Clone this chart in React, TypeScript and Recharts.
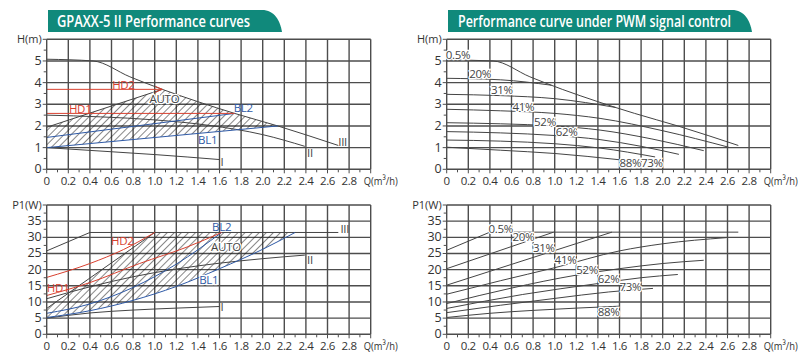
import { Area, CartesianGrid, ComposedChart, Line, ReferenceDot, XAxis, YAxis } from 'recharts';

type Pt = { x: number; y: number };

const TEAL = '#10897b';
const GRID = '#4d4d4d';
const INK = '#444';
const RED = '#d8402f';
const BLUE = '#2f5aa6';
const FONT = '"Open Sans", "Noto Sans", sans-serif';

// axis ticks
const qTicks = [0, 0.1, 0.2, 0.3, 0.4, 0.5, 0.6, 0.7, 0.8, 0.9, 1.0, 1.1, 1.2, 1.3, 1.4, 1.5, 1.6, 1.7, 1.8, 1.9, 2.0, 2.1, 2.2, 2.3, 2.4, 2.5, 2.6, 2.7, 2.8, 2.9, 3.0];
const qGrid = [0.2, 0.4, 0.6, 0.8, 1.0, 1.2, 1.4, 1.6, 1.8, 2.0, 2.2, 2.4, 2.6, 2.8, 3.0];
const hTicks = [0, 0.5, 1, 1.5, 2, 2.5, 3, 3.5, 4, 4.5, 5, 5.5, 6];
const hGrid = [1, 2, 3, 4, 5, 6];
const pTicks = [0, 2.5, 5, 7.5, 10, 12.5, 15, 17.5, 20, 22.5, 25, 27.5, 30, 32.5, 35, 37.5, 40];
const pGrid = [5, 10, 15, 20, 25, 30, 35, 40];

// GPAXX-5 II : head
const speedIII_H: Pt[] = [{ x: 0, y: 5.08 }, { x: 0.43, y: 5.0 }, { x: 0.77, y: 4.27 }, { x: 1.07, y: 3.69 }, { x: 1.4, y: 3.12 }, { x: 1.74, y: 2.58 }, { x: 2.14, y: 2.0 }, { x: 2.7, y: 1.1 }];
const speedII_H: Pt[] = [{ x: 0, y: 2.5 }, { x: 0.5, y: 2.42 }, { x: 1.0, y: 2.28 }, { x: 1.5, y: 2.03 }, { x: 2.0, y: 1.6 }, { x: 2.39, y: 1.06 }];
const speedI_H: Pt[] = [{ x: 0, y: 1.0 }, { x: 0.6, y: 0.81 }, { x: 1.0, y: 0.68 }, { x: 1.6, y: 0.45 }];
const auto_H: Pt[] = [{ x: 0, y: 1.94 }, { x: 1.07, y: 3.69 }];
const bl1_H: Pt[] = [{ x: 0, y: 1.0 }, { x: 2.14, y: 2.0 }];
const bl2_H: Pt[] = [{ x: 0, y: 1.47 }, { x: 1.74, y: 2.58 }];
const hd1_H: Pt[] = [{ x: 0, y: 2.58 }, { x: 1.74, y: 2.58 }];
const hd2_H: Pt[] = [{ x: 0, y: 3.69 }, { x: 1.07, y: 3.69 }];
const autoBand_H = [
  { x: 0, r: [1.0, 1.94] },
  { x: 0.5, r: [1.23, 2.76] },
  { x: 1.07, r: [1.5, 3.69] },
  { x: 1.4, r: [1.65, 3.12] },
  { x: 1.74, r: [1.81, 2.58] },
  { x: 2.14, r: [2.0, 2.0] },
];

// GPAXX-5 II : power
const speedIII_P: Pt[] = [{ x: 0, y: 25.8 }, { x: 0.4, y: 31.5 }, { x: 2.7, y: 31.5 }];
const speedII_P: Pt[] = [{ x: 0, y: 11 }, { x: 0.4, y: 14.7 }, { x: 0.8, y: 17.8 }, { x: 1.2, y: 20.2 }, { x: 1.6, y: 22.0 }, { x: 2.0, y: 23.4 }, { x: 2.39, y: 24.5 }];
const speedI_P: Pt[] = [{ x: 0, y: 5 }, { x: 0.4, y: 6.6 }, { x: 0.8, y: 7.5 }, { x: 1.2, y: 8.1 }, { x: 1.6, y: 8.6 }];
const hd2_P: Pt[] = [{ x: 0, y: 17.6 }, { x: 0.4, y: 21.9 }, { x: 0.71, y: 26.2 }, { x: 1.0, y: 31.5 }];
const hd1_P: Pt[] = [{ x: 0, y: 12 }, { x: 0.4, y: 16.0 }, { x: 0.86, y: 21.9 }, { x: 1.3, y: 27 }, { x: 1.62, y: 31.5 }];
const bl2_P: Pt[] = [{ x: 0, y: 6.5 }, { x: 0.4, y: 9.4 }, { x: 0.8, y: 14.5 }, { x: 1.2, y: 21.7 }, { x: 1.62, y: 31.5 }];
const bl1_P: Pt[] = [{ x: 0, y: 5.2 }, { x: 0.4, y: 7.3 }, { x: 0.8, y: 10.5 }, { x: 1.2, y: 14.8 }, { x: 1.6, y: 20.3 }, { x: 2.0, y: 26.3 }, { x: 2.3, y: 31.5 }];
const auto_P: Pt[] = [{ x: 0, y: 8 }, { x: 1.0, y: 31.5 }];
const autoBand_P = [
  { x: 0, r: [5.2, 8] },
  { x: 0.4, r: [7.3, 17.4] },
  { x: 0.8, r: [10.5, 26.8] },
  { x: 1.0, r: [12.6, 31.5] },
  { x: 1.2, r: [14.8, 31.5] },
  { x: 1.6, r: [20.3, 31.5] },
  { x: 2.0, r: [26.3, 31.5] },
  { x: 2.3, r: [31.5, 31.5] },
];

// PWM : head
const pwm05_H: Pt[] = [{ x: 0, y: 5.05 }, { x: 0.43, y: 5.0 }, { x: 0.77, y: 4.27 }, { x: 1.07, y: 3.69 }, { x: 1.4, y: 3.12 }, { x: 1.74, y: 2.58 }, { x: 2.14, y: 2.0 }, { x: 2.7, y: 1.1 }];
const pwm20_H: Pt[] = [{ x: 0, y: 4.2 }, { x: 0.5, y: 4.13 }, { x: 0.97, y: 3.88 }];
const pwm31_H: Pt[] = [{ x: 0, y: 3.46 }, { x: 0.5, y: 3.4 }, { x: 1.0, y: 3.26 }, { x: 1.57, y: 2.85 }];
const pwm41_H: Pt[] = [{ x: 0, y: 2.77 }, { x: 0.5, y: 2.7 }, { x: 1.0, y: 2.58 }, { x: 1.42, y: 2.35 }, { x: 2.0, y: 1.78 }, { x: 2.61, y: 1.02 }];
const pwm52_H: Pt[] = [{ x: 0, y: 2.15 }, { x: 0.5, y: 2.1 }, { x: 1.0, y: 2.0 }, { x: 1.42, y: 1.81 }, { x: 1.9, y: 1.4 }, { x: 2.38, y: 0.86 }];
const pwm62_H: Pt[] = [{ x: 0, y: 1.74 }, { x: 0.5, y: 1.68 }, { x: 1.0, y: 1.56 }, { x: 1.42, y: 1.37 }, { x: 1.8, y: 1.06 }, { x: 2.15, y: 0.69 }];
const pwm73_H: Pt[] = [{ x: 0, y: 1.35 }, { x: 0.5, y: 1.3 }, { x: 1.0, y: 1.18 }, { x: 1.42, y: 0.98 }, { x: 1.93, y: 0.57 }];
const pwm88_H: Pt[] = [{ x: 0, y: 1.02 }, { x: 0.5, y: 0.88 }, { x: 1.0, y: 0.73 }, { x: 1.6, y: 0.44 }];

// PWM : power
const pwm05_P: Pt[] = [{ x: 0, y: 26 }, { x: 0.4, y: 31.6 }, { x: 2.7, y: 31.6 }];
const pwm20_P: Pt[] = [{ x: 0, y: 20.3 }, { x: 0.99, y: 31.6 }];
const pwm31_P: Pt[] = [{ x: 0, y: 15.2 }, { x: 1.53, y: 31.6 }];
const pwm41_P: Pt[] = [{ x: 0, y: 12.4 }, { x: 0.5, y: 16.6 }, { x: 1.0, y: 20.6 }, { x: 1.6, y: 25.8 }, { x: 2.0, y: 28.0 }, { x: 2.59, y: 29.9 }];
const pwm52_P: Pt[] = [{ x: 0, y: 9.5 }, { x: 0.6, y: 14.3 }, { x: 1.2, y: 18.3 }, { x: 1.6, y: 20.3 }, { x: 2.0, y: 21.9 }, { x: 2.38, y: 22.9 }];
const pwm62_P: Pt[] = [{ x: 0, y: 8.0 }, { x: 0.7, y: 12.3 }, { x: 1.4, y: 15.7 }, { x: 1.8, y: 17.5 }, { x: 2.14, y: 18.5 }];
const pwm73_P: Pt[] = [{ x: 0, y: 6.7 }, { x: 0.5, y: 9.0 }, { x: 1.0, y: 11.1 }, { x: 1.5, y: 13.1 }, { x: 1.91, y: 14.2 }];
const pwm88_P: Pt[] = [{ x: 0, y: 5.2 }, { x: 0.4, y: 6.5 }, { x: 0.8, y: 7.4 }, { x: 1.2, y: 8.1 }, { x: 1.6, y: 8.7 }];

const QTick = (props: any) => {
  const { x, y, payload } = props;
  const v = Math.round(payload.value * 10);
  if (v % 2) return <line x1={x} x2={x} y1={y} y2={y + 3} stroke={GRID} />;
  const last = v === 30;
  const label = last ? 'Q(m³/h)' : v === 0 ? '0' : (v / 10).toFixed(1);
  return (
    <g>
      <line x1={x} x2={x} y1={y} y2={y + 4} stroke={GRID} />
      {last ? (
        <text x={x - 7} y={y + 16} textAnchor="start" fontSize={11.5} fontFamily={FONT} fill="#333" textLength={34} lengthAdjust="spacingAndGlyphs">
          {label}
        </text>
      ) : (
        <text x={x} y={y + 16} textAnchor="middle" fontSize={11.5} letterSpacing={-0.4} fontFamily={FONT} fill="#333">
          {label}
        </text>
      )}
    </g>
  );
};

const makeYTick = (step: number, top: number, title: string) => (props: any) => {
  const { x, y, payload } = props;
  const v = payload.value;
  if (Math.abs(v / step - Math.round(v / step)) > 0.01) return <line x1={x} x2={x - 3} y1={y} y2={y} stroke={GRID} />;
  return (
    <g>
      <line x1={x} x2={x - 4} y1={y} y2={y} stroke={GRID} />
      <text x={x - 5} y={y + 4} textAnchor="end" fontSize={v === top ? 11 : 12.5} fontFamily={FONT} fill="#333">
        {v === top ? title : v}
      </text>
    </g>
  );
};

const hTick = makeYTick(1, 6, 'H(m)');
const pTick = makeYTick(5, 40, 'P1(W)');

const curve = (key: string, data: Pt[], color = INK, type: 'monotone' | 'linear' = 'monotone', dot: any = false) => (
  <Line key={key} data={data} dataKey="y" type={type} stroke={color} strokeWidth={1} dot={dot} activeDot={false} isAnimationActive={false} />
);

const tag = (key: string, x: number, y: number, text: string, color = INK, anchor: 'middle' | 'start' = 'middle', halo = false) => (
  <ReferenceDot
    key={key}
    x={x}
    y={y}
    r={0}
    ifOverflow="visible"
    shape={(p: any) => (
      <text x={p.cx} y={p.cy} dy={4} textAnchor={anchor} fill={color} fontSize={11.5} letterSpacing={-0.3} fontFamily={FONT} stroke={halo ? '#fff' : 'none'} strokeWidth={2.5} paintOrder="stroke">
        {text}
      </text>
    )}
  />
);

const band = (key: string, data: any[], fill: string) => (
  <Area key={key} data={data} dataKey="r" type="linear" stroke="none" fill={fill} fillOpacity={1} dot={false} activeDot={false} isAnimationActive={false} />
);

const arrowDot = (p: any) =>
  p.index === 1 ? (
    <path key="arrow" d={`M${p.cx - 7},${p.cy - 3} L${p.cx},${p.cy} L${p.cx - 7},${p.cy + 3}`} stroke={RED} fill="none" />
  ) : (
    <g key={p.index} />
  );

function Panel({ left, top, upper, pattern, children }: { left: number; top: number; upper: boolean; pattern: string; children: any }) {
  const height = upper ? 190 : 181;
  return (
    <div style={{ position: 'absolute', left, top }}>
      <ComposedChart width={430} height={height} margin={{ top: upper ? 39.3 : 25, right: 59.3, bottom: upper ? 0.7 : 6.7, left: 6.7 }}>
        <defs>
          <pattern id={pattern} patternUnits="userSpaceOnUse" width={5} height={5} patternTransform="rotate(45)">
            <line x1={0} y1={0} x2={0} y2={5} stroke="#111" strokeWidth={1} />
          </pattern>
        </defs>
        <CartesianGrid stroke={GRID} strokeWidth={1.4} verticalValues={qGrid} horizontalValues={upper ? hGrid : pGrid} />
        <XAxis type="number" dataKey="x" domain={[0, 3]} ticks={qTicks} interval={0} tick={<QTick />} tickLine={false} tickSize={0} tickMargin={0} height={20} axisLine={{ stroke: GRID, strokeWidth: 1.4 }} allowDataOverflow />
        <YAxis
          type="number"
          domain={upper ? [0, 6] : [0, 40]}
          ticks={upper ? hTicks : pTicks}
          interval={0}
          tick={upper ? hTick : pTick}
          tickLine={false}
          tickSize={0}
          tickMargin={0}
          width={40}
          axisLine={{ stroke: GRID, strokeWidth: 1.4 }}
          allowDataOverflow
        />
        {children}
      </ComposedChart>
    </div>
  );
}

export default function App() {
  return (
    <div style={{ position: 'absolute', left: 0, top: 0, width: 800, height: 361, background: '#fff', overflow: 'hidden', fontFamily: FONT }}>
      <Panel left={0} top={0} upper pattern="hatchH">
        {[
          band('band', autoBand_H, 'url(#hatchH)'),
          curve('III', speedIII_H),
          curve('II', speedII_H),
          curve('I', speedI_H),
          curve('auto', auto_H, INK, 'linear'),
          curve('bl1', bl1_H, BLUE, 'linear'),
          curve('bl2', bl2_H, BLUE, 'linear'),
          curve('hd1', hd1_H, RED, 'linear'),
          curve('hd2', hd2_H, RED, 'linear', arrowDot),
          tag('tHD2', 0.71, 3.89, 'HD2', RED),
          tag('tHD1', 0.31, 2.78, 'HD1', RED),
          tag('tAUTO', 1.09, 3.24, 'AUTO', INK, 'middle', true),
          tag('tBL2', 1.82, 2.83, 'BL2', BLUE),
          tag('tBL1', 1.49, 1.35, 'BL1', BLUE),
          tag('tIII', 2.7, 1.27, 'III', INK, 'start'),
          tag('tII', 2.41, 0.75, 'II', INK, 'start'),
          tag('tI', 1.61, 0.33, 'I', INK, 'start'),
        ]}
      </Panel>
      <Panel left={0} top={180} upper={false} pattern="hatchP">
        {[
          band('band', autoBand_P, 'url(#hatchP)'),
          curve('III', speedIII_P, INK, 'linear'),
          curve('II', speedII_P),
          curve('I', speedI_P),
          curve('auto', auto_P, INK, 'linear'),
          curve('bl1', bl1_P, BLUE),
          curve('bl2', bl2_P, BLUE),
          curve('hd1', hd1_P, RED),
          curve('hd2', hd2_P, RED),
          tag('tHD2', 0.7, 29.0, 'HD2', RED),
          tag('tHD1', 0.105, 14.4, 'HD1', RED),
          tag('tBL2', 1.62, 33.2, 'BL2', BLUE),
          tag('tAUTO', 1.66, 27.0, 'AUTO', INK, 'middle', true),
          tag('tBL1', 1.5, 16.7, 'BL1', BLUE, 'middle', true),
          tag('tIII', 2.72, 32.7, 'III', INK, 'start'),
          tag('tII', 2.41, 23.1, 'II', INK, 'start'),
          tag('tI', 1.61, 8.5, 'I', INK, 'start'),
        ]}
      </Panel>
      <Panel left={400} top={0} upper pattern="hatchH2">
        {[
          curve('p05', pwm05_H),
          curve('p20', pwm20_H),
          curve('p31', pwm31_H),
          curve('p41', pwm41_H),
          curve('p52', pwm52_H),
          curve('p62', pwm62_H),
          curve('p73', pwm73_H),
          curve('p88', pwm88_H),
          tag('t05', 0.105, 5.27, '0.5%', INK, 'middle', true),
          tag('t20', 0.31, 4.4, '20%', INK, 'middle', true),
          tag('t31', 0.51, 3.66, '31%', INK, 'middle', true),
          tag('t41', 0.71, 2.86, '41%', INK, 'middle', true),
          tag('t52', 0.91, 2.2, '52%', INK, 'middle', true),
          tag('t62', 1.11, 1.74, '62%', INK, 'middle', true),
          tag('t88', 1.7, 0.28, '88%', INK, 'middle', true),
          tag('t73', 1.9, 0.28, '73%', INK, 'middle', true),
        ]}
      </Panel>
      <Panel left={400} top={180} upper={false} pattern="hatchP2">
        {[
          curve('p05', pwm05_P, INK, 'linear'),
          curve('p20', pwm20_P, INK, 'linear'),
          curve('p31', pwm31_P, INK, 'linear'),
          curve('p41', pwm41_P),
          curve('p52', pwm52_P),
          curve('p62', pwm62_P),
          curve('p73', pwm73_P),
          curve('p88', pwm88_P),
          tag('t05', 0.5, 32.6, '0.5%', INK, 'middle', true),
          tag('t20', 0.71, 30.1, '20%', INK, 'middle', true),
          tag('t31', 0.9, 26.7, '31%', INK, 'middle', true),
          tag('t41', 1.1, 22.9, '41%', INK, 'middle', true),
          tag('t52', 1.3, 20.0, '52%', INK, 'middle', true),
          tag('t62', 1.5, 17.2, '62%', INK, 'middle', true),
          tag('t73', 1.7, 14.7, '73%', INK, 'middle', true),
          tag('t88', 1.5, 7.0, '88%', INK, 'middle', true),
        ]}
      </Panel>
      <svg width={800} height={40} style={{ position: 'absolute', left: 0, top: 0 }}>
        <path d="M48,10 H262 C274,10 280,20 282,32 H48 Z" fill={TEAL} />
        <text x={57} y={26.5} fontSize={17} fontWeight={600} fill="#fff" fontFamily={FONT} textLength={193} lengthAdjust="spacingAndGlyphs">
          GPAXX-5 II Performance curves
        </text>
        <path d="M448,10 H732 C744,10 750,20 752,32 H448 Z" fill={TEAL} />
        <text x={458} y={26.5} fontSize={17} fontWeight={600} fill="#fff" fontFamily={FONT} textLength={273} lengthAdjust="spacingAndGlyphs">
          Performance curve under PWM signal control
        </text>
      </svg>
    </div>
  );
}
